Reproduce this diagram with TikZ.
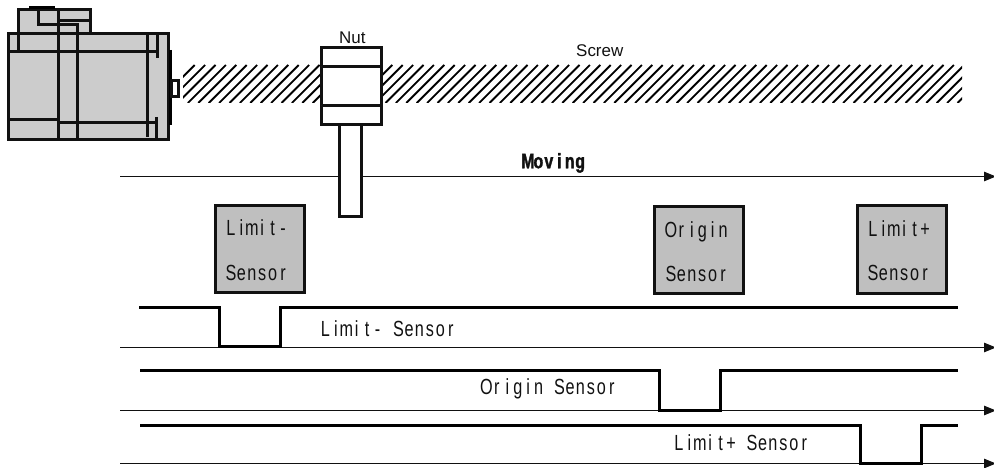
\documentclass[tikz,border=0pt]{standalone}
\usepackage{fontspec}
\setmainfont{Liberation Sans}
\newfontfamily\narrowfont[FakeStretch=0.74]{Liberation Sans}
\newfontfamily\narrowbold[FakeStretch=0.76,FakeBold=1.5]{Liberation Sans Bold}
\usetikzlibrary{arrows.meta}
\newlength{\cw}\setlength{\cw}{10.45bp}
\def\cells#1{\cellsaux#1\relax}
\def\cellsaux#1{\ifx#1\relax\else\makebox[\cw]{#1}\expandafter\cellsaux\fi}
\definecolor{motorgray}{HTML}{CCCCCC}
\definecolor{boxgray}{HTML}{BFBFBF}
\definecolor{ink}{HTML}{111111}
\tikzset{
  mline/.style={draw=ink,line width=2.1bp},
  plain/.style={draw=ink,line width=2.1bp,fill=white},
  sensorbox/.style={draw=ink,line width=2.6bp,fill=boxgray},
  lab/.style={anchor=base west,inner sep=0pt,font=\narrowfont\fontsize{22}{22}\selectfont,text=ink},
  wide/.style={anchor=base west,inner sep=0pt,font=\fontsize{17}{17}\selectfont,text=ink},
  axis/.style={draw=ink,line width=1bp,-{Triangle[length=12bp,width=9.5bp]}},
  sig/.style={draw=black,line width=3.2bp,line join=miter},
  hatch/.style={draw=black,line width=1.9bp}
}
\begin{document}
\begin{tikzpicture}[x=1bp,y=-1bp]
\useasboundingbox (0,0) rectangle (994,468);
% motor
\fill[motorgray] (8.5,33.5) rectangle (168.5,139.5);
\fill[motorgray] (18.5,9.5) rectangle (90.5,33.5);
\draw[mline] (18.5,51.5) -- (18.5,9.5) -- (90.5,9.5) -- (90.5,33.5);
\draw[mline] (8.5,33.5) rectangle (168.5,139.5);
\draw[line width=3bp,draw=black] (29,8) -- (54.5,8);
\draw[mline] (58.5,9.5) -- (58.5,139.5);
\draw[mline] (77.5,33.5) -- (77.5,139.5);
\draw[mline] (147.5,33.5) -- (147.5,137.5);
\draw[mline] (157.5,33.5) -- (157.5,58);
\draw[mline] (156.5,117) -- (156.5,139.5);
\draw[mline] (8.5,51.5) -- (157.5,51.5);
\draw[mline] (8.5,119.5) -- (58.5,119.5);
\draw[mline] (58.5,122.5) -- (156.5,122.5);
\draw[mline] (38.5,9.5) -- (38.5,24.5) -- (77.5,24.5) -- (77.5,33.5);
\draw[mline] (58.5,20.5) -- (90.5,20.5);
\draw[line width=3bp,draw=black] (170,50) -- (170,125);
\draw[mline,fill=white] (171.5,80.5) rectangle (178.5,96.5);
% screw
\begin{scope}
\clip (183,65) rectangle (962,103);
\foreach \k in {-20,...,60}
  \draw[hatch] ({364.7+10.4*\k},103) -- ({402.7+10.4*\k},65);
\end{scope}
\node[wide] (screwlab) at (576,56.5) {Screw};
% moving axis
\coordinate (mstart) at (120,176.5);
\coordinate (mend) at (996,176.5);
\draw[axis] (mstart) -- (mend);
\node[lab,font=\narrowbold\fontsize{21}{21}\selectfont] (movinglab) at (522.5,168.3) {\cells{Moving}};
% nut
\draw[plain] (339.5,124.5) rectangle (361.5,216.5);
\draw[plain] (321.5,47.5) rectangle (381.5,124.5);
\draw[plain] (321.5,66.5) -- (381.5,66.5);
\draw[plain] (321.5,105.5) -- (381.5,105.5);
\node[wide] (nutlab) at (339,43.3) {Nut};
% sensors
\draw[sensorbox] (215.5,205.5) rectangle (304.5,292.5);
\draw[sensorbox] (654.5,206.5) rectangle (743.5,293.5);
\draw[sensorbox] (857.5,205.5) rectangle (946.5,293.5);
\node[lab] (a1) at (225.5,236) {\cells{Limit-}};
\node[lab] (a2) at (225.5,281) {\cells{Sensor}};
\node[lab] (b1) at (665.5,237.7) {\cells{Origin}};
\node[lab] (b2) at (665.5,281.7) {\cells{Sensor}};
\node[lab] (c1) at (867.5,236.7) {\cells{Limit+}};
\node[lab] (c2) at (867.5,281) {\cells{Sensor}};
% axes
\coordinate (a0) at (120,347.5);  \coordinate (ae) at (996,347.5);
\coordinate (b0) at (120,410.5);  \coordinate (be) at (996,410.5);
\coordinate (c0) at (120,463.5);  \coordinate (ce) at (996,463.5);
\draw[axis] (a0) -- (ae);
\draw[axis] (b0) -- (be);
\draw[axis] (c0) -- (ce);
% signals
\draw[sig] (139,307.5) -| (219.5,346.5) -| (280.5,307.5) -- (958,307.5);
\draw[sig] (140,370.5) -| (659.5,410.5) -| (720.5,370.5) -- (958,370.5);
\draw[sig] (140,425.5) -| (860.5,463.5) -| (921.5,425.5) -- (958,425.5);
% signal labels
\node[lab] (la) at (320,336.7) {\cells{Limit-~Sensor}};
\node[lab] (lb) at (481,395) {\cells{Origin~Sensor}};
\node[lab] (lc) at (673.5,450) {\cells{Limit+~Sensor}};
\end{tikzpicture}
\end{document}
